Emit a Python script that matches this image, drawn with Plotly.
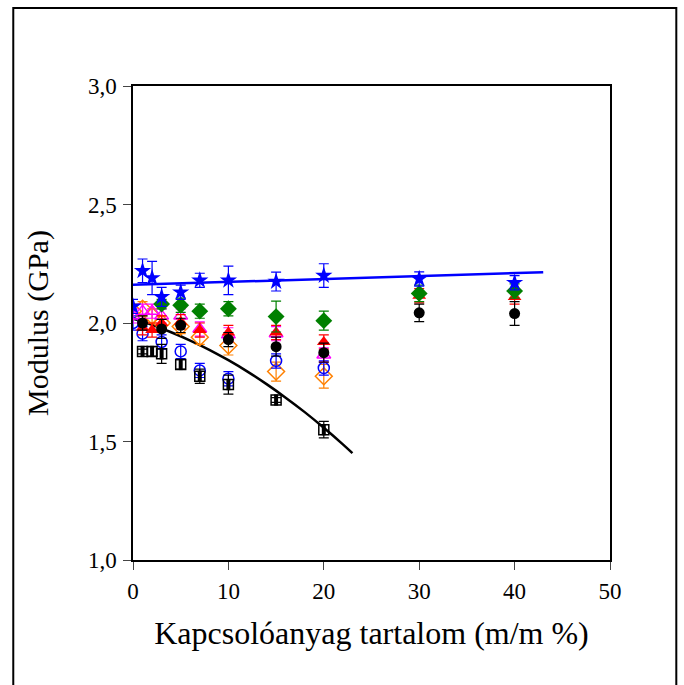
import plotly.graph_objects as go

# ---- data ----
star_x = [0, 1, 2, 3, 5, 7, 10, 15, 20, 30, 40]
star_y = [2.07, 2.22, 2.19, 2.11, 2.13, 2.18, 2.18, 2.175, 2.20, 2.186, 2.17]
star_e = [0.03, 0.05, 0.07, 0.04, 0.03, 0.03, 0.06, 0.04, 0.05, 0.03, 0.03]

green_x = [3, 5, 7, 10, 15, 20, 30, 40]
green_y = [2.08, 2.075, 2.05, 2.06, 2.027, 2.01, 2.125, 2.135]
green_e = [0.02, 0.03, 0.03, 0.03, 0.065, 0.04, 0.035, 0.03]

red_x = [1, 2, 3, 5, 7, 10, 15, 20, 30, 40]
red_y = [1.98, 1.97, 2.0, 2.005, 1.97, 1.96, 1.96, 1.92, 2.115, 2.11]
red_e = [0.03, 0.03, 0.03, 0.03, 0.03, 0.03, 0.03, 0.03, 0.03, 0.03]

mag_x = [0, 1, 2, 3, 5, 7, 10, 15, 20]
mag_y = [2.03, 2.05, 2.05, 2.03, 2.03, 1.975, 1.95, 1.955, 1.865]
mag_e = [0.03, 0.03, 0.03, 0.03, 0.03, 0.03, 0.03, 0.03, 0.03]

bc_x = [1, 3, 5, 10, 15, 20, 30, 40]
bc_y = [2.0, 1.975, 1.99, 1.93, 1.90, 1.875, 2.043, 2.04]
bc_e = [0.03, 0.04, 0.03, 0.03, 0.04, 0.04, 0.037, 0.05]

oc_x = [0, 1, 3, 5, 7, 10, 15, 20]
oc_y = [2.0, 1.955, 1.92, 1.88, 1.80, 1.765, 1.84, 1.81]
oc_e = [0.03, 0.03, 0.03, 0.03, 0.03, 0.03, 0.03, 0.03]

od_x = [0, 1, 2, 3, 5, 7, 10, 15, 20]
od_y = [2.05, 2.06, 2.03, 2.0, 1.985, 1.94, 1.905, 1.795, 1.775]
od_e = [0.03, 0.03, 0.03, 0.03, 0.03, 0.03, 0.04, 0.04, 0.05]

sq_x = [1, 2, 3, 5, 7, 10, 15, 20]
sq_y = [1.88, 1.88, 1.87, 1.825, 1.775, 1.74, 1.675, 1.55]
sq_e = [0.01, 0.02, 0.04, 0.02, 0.03, 0.04, 0.01, 0.035]

fit_blue_x = [0, 43]
fit_blue_y = [2.161, 2.214]

fit_black_x = [0, 2, 4, 6, 8, 10, 12, 14, 16, 18, 20, 22, 23]
fit_black_y = [2.018, 1.992, 1.961, 1.926, 1.887, 1.843, 1.795, 1.742, 1.685, 1.624, 1.558, 1.488, 1.451]

x_ticks = [0, 10, 20, 30, 40, 50]
y_ticks = [1.0, 1.5, 2.0, 2.5, 3.0]

fig = go.Figure()

fig.add_trace(go.Scatter(x=fit_blue_x, y=fit_blue_y, mode="lines",
                         line=dict(color="#0000FF", width=2.5), showlegend=False))
fig.add_trace(go.Scatter(x=fit_black_x, y=fit_black_y, mode="lines",
                         line=dict(color="black", width=2.5, shape="spline"), showlegend=False))


def pts(x, y, e, color, symbol, size, fill=None, lw=1.5):
    fig.add_trace(go.Scatter(
        x=x, y=y, mode="markers", showlegend=False,
        error_y=dict(type="data", array=e, color=color, thickness=1.2, width=5),
        marker=dict(symbol=symbol, size=size, color=fill if fill else color,
                    line=dict(color=color, width=lw))))


pts(od_x, od_y, od_e, "#FF8000", "diamond-open", 13)
pts(oc_x, oc_y, oc_e, "#0000FF", "circle-open", 11)
pts(mag_x, mag_y, mag_e, "#FF00FF", "triangle-up-open", 12)
pts(red_x, red_y, red_e, "#FF0000", "triangle-up", 12, lw=0)
pts(bc_x, bc_y, bc_e, "black", "circle", 11, lw=0)
pts(green_x, green_y, green_e, "#008000", "diamond", 13, lw=0)
pts(star_x, star_y, star_e, "#0000FF", "star", 13, lw=0)
pts(sq_x, sq_y, sq_e, "black", "square-open", 10, lw=1.5)
fig.add_trace(go.Scatter(x=sq_x, y=sq_y, mode="markers", showlegend=False,
                         marker=dict(symbol="line-ns", size=8,
                                     line=dict(color="black", width=4))))

fig.add_shape(type="rect", xref="paper", yref="paper",
              x0=-0.251, x1=1.139, y0=-0.30, y1=1.1646,
              line=dict(color="black", width=2), fillcolor="rgba(0,0,0,0)")

font = "Liberation Serif, Times New Roman, serif"
fig.update_layout(
    width=684, height=685,
    margin=dict(l=133, r=74, t=86, b=125),
    paper_bgcolor="white", plot_bgcolor="white",
    separators=", ",
    font=dict(family=font, color="black"),
    xaxis=dict(range=[0, 50], tickvals=x_ticks, ticks="outside", ticklen=8,
               showline=True, linecolor="black", linewidth=1.5, mirror=True,
               showgrid=False, zeroline=False, ticklabelstandoff=2,
               tickfont=dict(size=23, family=font),
               title=dict(text="Kapcsolóanyag tartalom (m/m %)",
                          font=dict(size=32, family=font), standoff=18)),
    yaxis=dict(range=[1.0, 3.0], tickvals=y_ticks, tickformat=".1f",
               ticks="outside", ticklen=8,
               showline=True, linecolor="black", linewidth=1.5, mirror=True,
               showgrid=False, zeroline=False, ticklabelstandoff=2,
               tickfont=dict(size=23, family=font),
               title=dict(text="Modulus (GPa)",
                          font=dict(size=30, family=font), standoff=30)),
)

fig.write_html("out.html")
